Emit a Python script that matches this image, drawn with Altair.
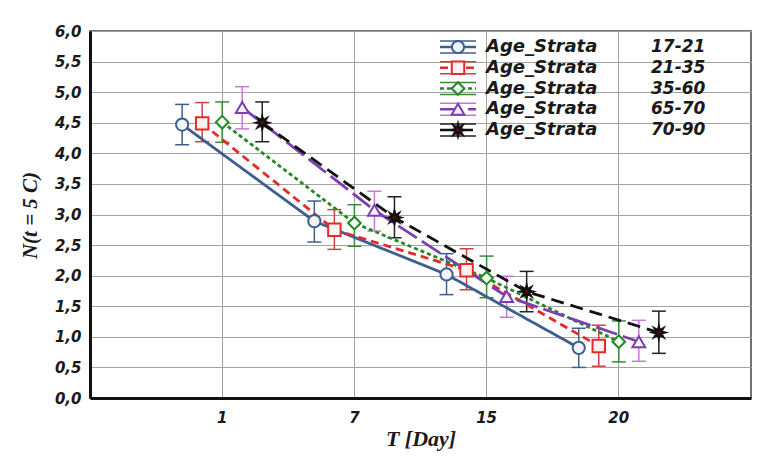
import math
import altair as alt
import pandas as pd

# ---------------- data ----------------
days = ["1", "7", "15", "20"]
strata = ["17-21", "21-35", "35-60", "65-70", "70-90"]

mean_17_21 = [4.47, 2.89, 2.02, 0.82]
mean_21_35 = [4.49, 2.75, 2.09, 0.85]
mean_35_60 = [4.51, 2.86, 1.96, 0.92]
mean_65_70 = [4.75, 3.07, 1.66, 0.92]
mean_70_90 = [4.50, 2.95, 1.74, 1.07]

low_17_21 = [4.14, 2.55, 1.69, 0.50]
low_21_35 = [4.19, 2.43, 1.77, 0.52]
low_35_60 = [4.18, 2.48, 1.64, 0.59]
low_65_70 = [4.40, 2.73, 1.32, 0.60]
low_70_90 = [4.19, 2.62, 1.41, 0.73]

high_17_21 = [4.80, 3.22, 2.36, 1.14]
high_21_35 = [4.83, 3.08, 2.44, 1.19]
high_35_60 = [4.84, 3.16, 2.32, 1.26]
high_65_70 = [5.09, 3.38, 1.99, 1.27]
high_70_90 = [4.84, 3.29, 2.07, 1.42]

y_ticks = [0, 0.5, 1, 1.5, 2, 2.5, 3, 3.5, 4, 4.5, 5, 5.5, 6]

means = [mean_17_21, mean_21_35, mean_35_60, mean_65_70, mean_70_90]
lows = [low_17_21, low_21_35, low_35_60, low_65_70, low_70_90]
highs = [high_17_21, high_21_35, high_35_60, high_65_70, high_70_90]

rows = []
for s, name in enumerate(strata):
    for d, day in enumerate(days):
        rows.append({"series": name, "day": day, "mean": means[s][d],
                     "lo": lows[s][d], "hi": highs[s][d]})
df = pd.DataFrame(rows)
leg_df = pd.DataFrame({"series": strata, "name": ["Age_Strata"] * len(strata)})

# ---------------- styles ----------------
line_colors = ["#3d5f8e", "#e52a2a", "#238a23", "#7a40b0", "#111111"]
err_colors = ["#3d5f8e", "#c84444", "#3a8a3a", "#c678d8", "#222222"]
fill_colors = ["#f1f5fa", "#fdf1f1", "#f2faf2", "#f8f1fc", "#6a0505"]
dashes = [[1, 0], [8, 5], [4, 3], [22, 6], [13, 7]]
sizes = [150, 170, 120, 160, 260]

pts = []
for i in range(16):
    r = 1.0 if i % 2 == 0 else 0.42
    a = math.pi * i / 8
    pts.append(f"{r * math.cos(a):.3f},{r * math.sin(a):.3f}")
star_path = "M" + "L".join(pts) + "Z"
shapes = ["circle", "square", "diamond", "triangle-up", star_path]

stroke_scale = alt.Scale(domain=strata, range=line_colors)
err_scale = alt.Scale(domain=strata, range=err_colors)
fill_scale = alt.Scale(domain=strata, range=fill_colors)
dash_scale = alt.Scale(domain=strata, range=dashes)
shape_scale = alt.Scale(domain=strata, range=shapes)
size_scale = alt.Scale(domain=strata, range=sizes)

x_axis = alt.Axis(
    title="T [Day]", grid=True, bandPosition=0.5, ticks=False, labelAngle=0,
    labelPadding=12, titleFont="Liberation Serif", titleFontSize=22,
    titleFontStyle="italic", titleFontWeight="bold", titleColor="#1a1a1a",
    titleY=40, titleBaseline="middle",
)
x_enc = alt.X("day:N", sort=days,
              scale=alt.Scale(domain=days, paddingInner=0, paddingOuter=0.5),
              axis=x_axis)
xoff_enc = alt.XOffset("series:N", sort=strata,
                       scale=alt.Scale(domain=strata, paddingInner=0, paddingOuter=0.8))
y_scale = alt.Scale(domain=[0, 6], nice=False, zero=False)
y_axis = alt.Axis(
    values=y_ticks, tickCount=13,
    labelExpr="replace(format(datum.value, '.1f'), '.', ',')",
    grid=True, ticks=False, labelPadding=9, labelOverlap=False,
    title="N(t = 5 C)", titleFont="Liberation Serif", titleFontSize=21,
    titleFontStyle="italic", titleFontWeight="bold", titleColor="#1a1a1a",
    titleAngle=270, titleX=-60, titleY=184, titleAlign="center", titleBaseline="middle",
)


def yq(field):
    return alt.Y(field, type="quantitative", scale=y_scale, axis=y_axis)


base = alt.Chart(df).encode(x=x_enc, xOffset=xoff_enc)

err = base.mark_rule(strokeWidth=1.5).encode(
    y=yq("lo"), y2="hi:Q",
    color=alt.Color("series:N", scale=err_scale, legend=None),
)
cap_lo = base.mark_point(shape="M-1,0L1,0", size=196, strokeWidth=1.5,
                         filled=False, opacity=1).encode(
    y=yq("lo"),
    color=alt.Color("series:N", scale=err_scale, legend=None),
)
cap_hi = base.mark_point(shape="M-1,0L1,0", size=196, strokeWidth=1.5,
                         filled=False, opacity=1).encode(
    y=yq("hi"),
    color=alt.Color("series:N", scale=err_scale, legend=None),
)
lines = base.mark_line(strokeWidth=2.8).encode(
    y=yq("mean"),
    stroke=alt.Stroke("series:N", scale=stroke_scale, legend=None),
    strokeDash=alt.StrokeDash("series:N", scale=dash_scale, legend=None),
    detail="series:N",
)
markers = base.mark_point(filled=True, opacity=1, strokeWidth=2).encode(
    y=yq("mean"),
    shape=alt.Shape("series:N", scale=shape_scale, legend=None),
    stroke=alt.Stroke("series:N", scale=stroke_scale, legend=None),
    fill=alt.Fill("series:N", scale=fill_scale, legend=None),
    size=alt.Size("series:O", scale=size_scale, legend=None),
)

main = alt.layer(err, cap_lo, cap_hi, lines, markers)

# ---------------- legend (inside the plot, top right) ----------------
leg_y = alt.Y("series:N", sort=strata,
              scale=alt.Scale(type="point", domain=strata, range=[16, 99], padding=0),
              axis=None)
leg = alt.Chart(leg_df).encode(y=leg_y)
leg_line = leg.mark_rule(strokeWidth=2.5).encode(
    x=alt.value(350), x2=alt.value(386),
    stroke=alt.Stroke("series:N", scale=stroke_scale, legend=None),
    strokeDash=alt.StrokeDash("series:N", scale=dash_scale, legend=None),
)
leg_cap_top = leg.mark_rule(strokeWidth=1.5, yOffset=-6).encode(
    x=alt.value(350), x2=alt.value(386),
    color=alt.Color("series:N", scale=err_scale, legend=None),
)
leg_cap_bot = leg.mark_rule(strokeWidth=1.5, yOffset=6).encode(
    x=alt.value(350), x2=alt.value(386),
    color=alt.Color("series:N", scale=err_scale, legend=None),
)
leg_marker = leg.mark_point(filled=True, opacity=1, strokeWidth=2).encode(
    x=alt.value(368),
    shape=alt.Shape("series:N", scale=shape_scale, legend=None),
    stroke=alt.Stroke("series:N", scale=stroke_scale, legend=None),
    fill=alt.Fill("series:N", scale=fill_scale, legend=None),
    size=alt.Size("series:O", scale=size_scale, legend=None),
)
leg_name = leg.mark_text(align="left", baseline="middle", font="DejaVu Sans",
                         fontSize=18, fontStyle="italic", fontWeight="bold",
                         color="#1a1a1a").encode(x=alt.value(396), text="name:N")
leg_val = leg.mark_text(align="left", baseline="middle", font="DejaVu Sans",
                        fontSize=17, fontStyle="italic", fontWeight="bold",
                        color="#1a1a1a").encode(x=alt.value(561), text="series:N")

legend = alt.layer(leg_line, leg_cap_top, leg_cap_bot, leg_marker, leg_name, leg_val)

chart = alt.layer(main, legend).resolve_scale(
    x="independent", y="independent"
).properties(
    width=661, height=367,
    padding={"left": 82, "top": 23, "right": 13, "bottom": 54},
    autosize=alt.AutoSizeParams(type="none"),
    background="white",
).configure_view(
    stroke="#444444", strokeWidth=1.5
).configure_axis(
    labelFont="DejaVu Sans", labelFontSize=15, labelFontWeight="bold",
    labelFontStyle="italic", labelColor="#1a1a1a",
    gridColor="#a3a3a3", gridWidth=1, domainColor="#111111", domainWidth=3,
)

chart.save("out.html", embed_options={"renderer": "svg", "actions": False})
